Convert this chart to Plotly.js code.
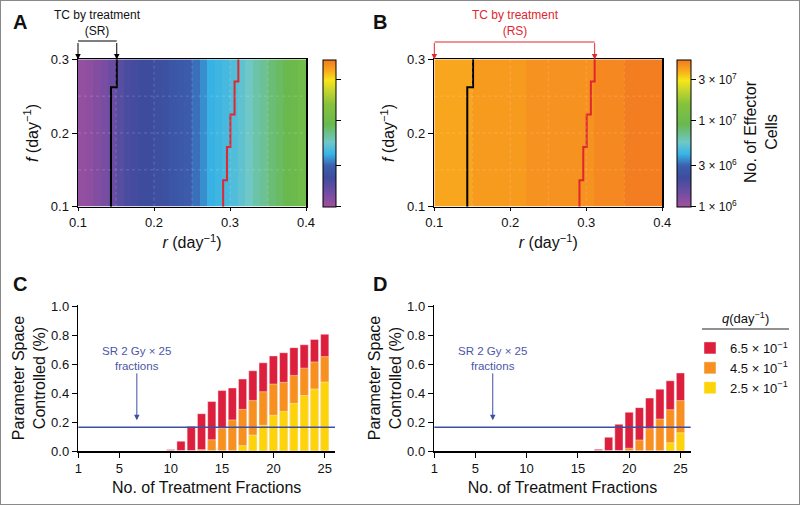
<!DOCTYPE html>
<html>
<head>
<meta charset="utf-8">
<script src="https://cdn.plot.ly/plotly-3.0.1.min.js"></script>
<style>
body { margin: 0; background: #fff; }
#chart { width: 800px; height: 505px; }
</style>
</head>
<body>
<div id="chart"></div>
<script>
// heatmap grid (r columns as edges, one f band)
var rEdges = [0.10, 0.11, 0.12, 0.13, 0.14, 0.15, 0.16, 0.17, 0.18, 0.19, 0.20,
              0.21, 0.22, 0.23, 0.24, 0.25, 0.26, 0.27, 0.28, 0.29, 0.30,
              0.31, 0.32, 0.33, 0.34, 0.35, 0.36, 0.37, 0.38, 0.39, 0.40];
var fEdges = [0.1, 0.3];

// no. of effector cells per r column, standard (A) and reverse (B) sequencing
var effA = [1.13e6, 1.17e6, 1.27e6, 1.37e6, 1.54e6, 1.8e6, 2.0e6, 2.1e6, 2.2e6, 2.2e6,
            2.3e6, 2.4e6, 2.6e6, 2.7e6, 2.8e6, 3.2e6, 3.6e6, 4.1e6, 4.3e6, 4.5e6,
            4.8e6, 5.2e6, 5.7e6, 6.4e6, 6.9e6, 7.8e6, 8.4e6, 9.1e6, 9.8e6, 1.06e7];
var effB = [3.95e7, 3.95e7, 3.95e7, 3.95e7, 3.95e7, 4.2e7, 4.2e7, 4.2e7, 4.2e7, 4.2e7,
            4.2e7, 4.2e7, 4.4e7, 4.4e7, 4.4e7, 4.4e7, 4.4e7, 4.4e7, 4.4e7, 4.4e7,
            4.4e7, 4.7e7, 4.7e7, 4.7e7, 4.7e7, 5.0e7, 5.0e7, 5.0e7, 5.0e7, 5.0e7];

// tumour-control boundaries (step lines)
var srR = [0.1434, 0.151, 0.151];
var srF = [0.1, 0.262, 0.3];
var rsR = [0.291, 0.296, 0.3005, 0.306, 0.311, 0.311];
var rsF = [0.1, 0.136, 0.181, 0.225, 0.27, 0.3];

var cbVals = [1e6, 3e6, 1e7, 3e7];
var cbText = ['1 × 10<sup>6</sup>', '3 × 10<sup>6</sup>', '1 × 10<sup>7</sup>', '3 × 10<sup>7</sup>'];

// parameter space controlled vs number of fractions
var fractions = [1, 2, 3, 4, 5, 6, 7, 8, 9, 10, 11, 12, 13, 14, 15, 16, 17, 18, 19, 20, 21, 22, 23, 24, 25];
var qNames = ['6.5 × 10<sup>−1</sup>', '4.5 × 10<sup>−1</sup>', '2.5 × 10<sup>−1</sup>'];
var qColors = ['#dc1f3d', '#f7901e', '#fdd30a'];

var cQ65 = [0, 0, 0, 0, 0, 0, 0, 0, 0, 0.01, 0.068, 0.171, 0.258, 0.342, 0.418, 0.436,
            0.498, 0.555, 0.61, 0.658, 0.68, 0.715, 0.735, 0.772, 0.808];
var cQ45 = [0, 0, 0, 0, 0, 0, 0, 0, 0, 0, 0, 0, 0.01, 0.078, 0.155, 0.215,
            0.288, 0.35, 0.41, 0.463, 0.475, 0.523, 0.573, 0.616, 0.653];
var cQ25 = [0, 0, 0, 0, 0, 0, 0, 0, 0, 0, 0, 0, 0, 0, 0, 0,
            0.037, 0.11, 0.178, 0.247, 0.274, 0.329, 0.384, 0.429, 0.477];

var dQ65 = [0, 0, 0, 0, 0, 0, 0, 0, 0, 0, 0, 0, 0, 0, 0, 0,
            0.012, 0.095, 0.185, 0.268, 0.3, 0.366, 0.428, 0.486, 0.54];
var dQ45 = [0, 0, 0, 0, 0, 0, 0, 0, 0, 0, 0, 0, 0, 0, 0, 0,
            0, 0, 0, 0.019, 0.076, 0.154, 0.221, 0.286, 0.349];
var dQ25 = [0, 0, 0, 0, 0, 0, 0, 0, 0, 0, 0, 0, 0, 0, 0, 0,
            0, 0, 0, 0, 0, 0, 0, 0.057, 0.126];

var srControlled = 0.165;   // SR 2 Gy x 25 fractions
var srArrowAt = 6.7;

var gridR = [0.15, 0.2, 0.25, 0.3, 0.35];
var gridF = [0.15, 0.2, 0.25];

var effScale = [
    [0, '#a3509f'], [0.1, '#6f4da3'], [0.2, '#3e4c9e'], [0.28, '#3b5fae'],
    [0.36, '#38b4e6'], [0.44, '#6fc7c8'], [0.56, '#69b94f'], [0.7, '#86c23c'],
    [0.8, '#cbd72c'], [0.86, '#f7e61a'], [0.92, '#f8b01e'], [0.96, '#f6931f'], [1, '#f37a21']
];
var zMin = 6, zMax = 7.71;

var FONT = 'Liberation Sans, Arial, sans-serif';

function log10(a) { return a.map(function (v) { return Math.log10(v); }); }

function colorbar(xpx, thick, labels) {
    return {
        x: xpx / 800, xanchor: 'left', xpad: 0,
        y: 1 - 133 / 505, yanchor: 'middle', ypad: 0,
        len: 147, lenmode: 'pixels', thickness: thick,
        outlinewidth: 1, outlinecolor: '#000',
        tickvals: log10(cbVals), ticktext: cbText,
        ticks: 'outside', ticklen: 5, tickcolor: '#000',
        showticklabels: labels, tickfont: {size: 12, color: '#111'}
    };
}

var traces = [
    {type: 'heatmap', x: rEdges, y: fEdges, z: [log10(effA)], zmin: zMin, zmax: zMax,
     colorscale: effScale, xaxis: 'x', yaxis: 'y', hoverinfo: 'skip', colorbar: colorbar(323, 13, false)},
    {type: 'heatmap', x: rEdges, y: fEdges, z: [log10(effB)], zmin: zMin, zmax: zMax,
     colorscale: effScale, xaxis: 'x2', yaxis: 'y2', hoverinfo: 'skip', colorbar: colorbar(677, 14, true)}
];

[['x', 'y'], ['x2', 'y2']].forEach(function (ax) {
    traces.push({type: 'scatter', mode: 'lines', x: srR, y: srF, xaxis: ax[0], yaxis: ax[1],
                 line: {color: '#000', width: 2, shape: 'vh'}, showlegend: false, hoverinfo: 'skip'});
    traces.push({type: 'scatter', mode: 'lines', x: rsR, y: rsF, xaxis: ax[0], yaxis: ax[1],
                 line: {color: '#e0262e', width: 2, shape: 'vh'}, showlegend: false, hoverinfo: 'skip'});
});

var cSets = [cQ65, cQ45, cQ25];
var dSets = [dQ65, dQ45, dQ25];
for (var i = 0; i < 3; i++) {
    traces.push({type: 'bar', x: fractions, y: cSets[i], name: qNames[i], width: 0.8,
                 marker: {color: qColors[i], line: {color: 'rgba(255,255,255,0.55)', width: 0.8}},
                 xaxis: 'x3', yaxis: 'y3', legendgroup: 'q' + i, hoverinfo: 'skip'});
    traces.push({type: 'bar', x: fractions, y: dSets[i], name: qNames[i], width: 0.8,
                 marker: {color: qColors[i], line: {color: 'rgba(255,255,255,0.55)', width: 0.8}},
                 xaxis: 'x4', yaxis: 'y4', legendgroup: 'q' + i, showlegend: false, hoverinfo: 'skip'});
}

function heatX(domain, anchor) {
    return {
        domain: domain, anchor: anchor, range: [0.1, 0.4], automargin: false,
        tickvals: [0.1, 0.2, 0.3, 0.4], tickformat: '.1f',
        showline: true, mirror: true, linecolor: '#000', linewidth: 1.5,
        ticks: 'outside', ticklen: 3, tickcolor: '#000', showgrid: false, zeroline: false,
        tickfont: {size: 13},
        title: {text: '<i>r</i> (day<sup>−1</sup>)', font: {size: 16}, standoff: 8}
    };
}
function heatY(domain, anchor) {
    return {
        domain: domain, anchor: anchor, range: [0.1, 0.3], automargin: false,
        tickvals: [0.1, 0.2, 0.3], tickformat: '.1f',
        showline: true, mirror: true, linecolor: '#000', linewidth: 1.5,
        ticks: 'outside', ticklen: 5, tickcolor: '#000', showgrid: false, zeroline: false,
        tickfont: {size: 13},
        title: {text: '<i>f</i> (day<sup>−1</sup>)', font: {size: 16}, standoff: 8}
    };
}
function barX(domain, anchor) {
    return {
        domain: domain, anchor: anchor, range: [1, 26], automargin: false,
        tickvals: [1, 5, 10, 15, 20, 25],
        showline: true, linecolor: '#000', linewidth: 1.5,
        ticks: 'outside', ticklen: 5, tickcolor: '#000', showgrid: false, zeroline: false,
        tickfont: {size: 13},
        title: {text: 'No. of Treatment Fractions', font: {size: 16}, standoff: 6}
    };
}
function barY(domain, anchor) {
    return {
        domain: domain, anchor: anchor, range: [0, 1.01], automargin: false,
        tickvals: [0, 0.2, 0.4, 0.6, 0.8, 1.0], tickformat: '.1f',
        showline: true, linecolor: '#000', linewidth: 1.5,
        ticks: 'outside', ticklen: 5, tickcolor: '#000', showgrid: false, zeroline: false,
        tickfont: {size: 13},
        title: {text: 'Parameter Space<br>Controlled (%)', font: {size: 16}, standoff: 1}
    };
}

var heatYDom = [1 - 206.7 / 505, 1 - 59.3 / 505];
var barYDom = [1 - 451 / 505, 1 - 305 / 505];

var shapes = [
    {type: 'rect', xref: 'paper', yref: 'paper', x0: 0, x1: 1, y0: 0, y1: 1,
     line: {color: '#8a8a8a', width: 2}},
    // TC brackets
    {type: 'line', xref: 'x', yref: 'paper', x0: 0.1, x1: srR[2], y0: 1 - 41 / 505, y1: 1 - 41 / 505,
     line: {color: '#000', width: 1}},
    {type: 'line', xref: 'x2', yref: 'paper', x0: 0.1, x1: rsR[5], y0: 1 - 42 / 505, y1: 1 - 42 / 505,
     line: {color: '#e0262e', width: 1}},
    // legend title rule
    {type: 'line', xref: 'paper', yref: 'paper', x0: 702 / 800, x1: 789 / 800, y0: 1 - 329 / 505, y1: 1 - 329 / 505,
     line: {color: '#222', width: 1}},
    // SR reference levels
    {type: 'line', xref: 'x3 domain', yref: 'y3', x0: 0, x1: 1, y0: srControlled, y1: srControlled,
     line: {color: '#3c4fa5', width: 1.5}, layer: 'above'},
    {type: 'line', xref: 'x4 domain', yref: 'y4', x0: 0, x1: 1, y0: srControlled, y1: srControlled,
     line: {color: '#3c4fa5', width: 1.5}, layer: 'above'}
];
['x', 'x2'].forEach(function (xa, k) {
    var ya = k === 0 ? 'y' : 'y2';
    gridR.forEach(function (g) {
        shapes.push({type: 'line', xref: xa, yref: ya, x0: g, x1: g, y0: 0.1, y1: 0.3, layer: 'above',
                     line: {color: 'rgba(255,255,255,0.18)', width: 1, dash: 'dot'}});
    });
    gridF.forEach(function (g) {
        shapes.push({type: 'line', xref: xa, yref: ya, x0: 0.1, x1: 0.4, y0: g, y1: g, layer: 'above',
                     line: {color: 'rgba(255,255,255,0.18)', width: 1, dash: 'dot'}});
    });
});

function arrowDown(xref, x, color) {
    return {xref: xref, yref: 'paper', x: x, y: 1 - 59.5 / 505, ax: 0, ay: -18, text: '',
            showarrow: true, arrowhead: 2, arrowsize: 1.1, arrowwidth: 1, arrowcolor: color};
}
function letter(txt, xpx, ypx) {
    return {xref: 'paper', yref: 'paper', x: xpx / 800, y: 1 - ypx / 505, xanchor: 'left', yanchor: 'middle',
            text: '<b>' + txt + '</b>', showarrow: false, font: {size: 20, color: '#111'}};
}
function label(xpx, ypx, txt, size, color, angle) {
    return {xref: 'paper', yref: 'paper', x: xpx / 800, y: 1 - ypx / 505, xanchor: 'center', yanchor: 'middle',
            text: txt, showarrow: false, textangle: angle || 0, font: {size: size, color: color}};
}
function srNote(xref, yref) {
    return {xref: xref, yref: yref, x: srArrowAt, y: 0.212, ax: 0, ay: -62,
            text: 'SR 2 Gy × 25<br>fractions', showarrow: true, arrowhead: 2, arrowsize: 1.1,
            arrowwidth: 1, arrowcolor: '#3c4fa5', font: {size: 11.5, color: '#4b56a8'}};
}

var annotations = [
    letter('A', 11, 22), letter('B', 371, 22), letter('C', 11, 284), letter('D', 371, 284),
    label(97, 23, 'TC by treatment<br>(SR)', 12, '#111'),
    label(515, 23, 'TC by treatment<br>(RS)', 12, '#e0262e'),
    arrowDown('x', 0.1, '#000'), arrowDown('x', srR[2], '#000'),
    arrowDown('x2', 0.1, '#e0262e'), arrowDown('x2', rsR[5], '#e0262e'),
    label(761, 132, 'No. of Effector<br>Cells', 16, '#111', -90),
    label(745, 318, '<i>q</i>(day<sup>−1</sup>)', 13, '#111'),
    srNote('x3', 'y3'), srNote('x4', 'y4')
];

var layout = {
    width: 800, height: 505,
    margin: {l: 0, r: 0, t: 0, b: 0},
    paper_bgcolor: '#fff', plot_bgcolor: 'rgba(0,0,0,0)',
    font: {family: FONT, size: 13, color: '#111'},
    barmode: 'overlay',
    showlegend: true,
    legend: {x: 690 / 800, xanchor: 'left', y: 1 - 333 / 505, yanchor: 'top',
             bgcolor: 'rgba(0,0,0,0)', font: {size: 13}, tracegroupgap: 0, traceorder: 'normal'},
    xaxis: heatX([78 / 800, 306 / 800], 'y'),
    yaxis: heatY(heatYDom, 'x'),
    xaxis2: heatX([434.3 / 800, 662.3 / 800], 'y2'),
    yaxis2: heatY(heatYDom, 'x2'),
    xaxis3: barX([78.3 / 800, 335 / 800], 'y3'),
    yaxis3: barY(barYDom, 'x3'),
    xaxis4: barX([434.3 / 800, 690.7 / 800], 'y4'),
    yaxis4: barY(barYDom, 'x4'),
    shapes: shapes,
    annotations: annotations
};

Plotly.newPlot('chart', traces, layout, {displayModeBar: false, staticPlot: true});
</script>
</body>
</html>
